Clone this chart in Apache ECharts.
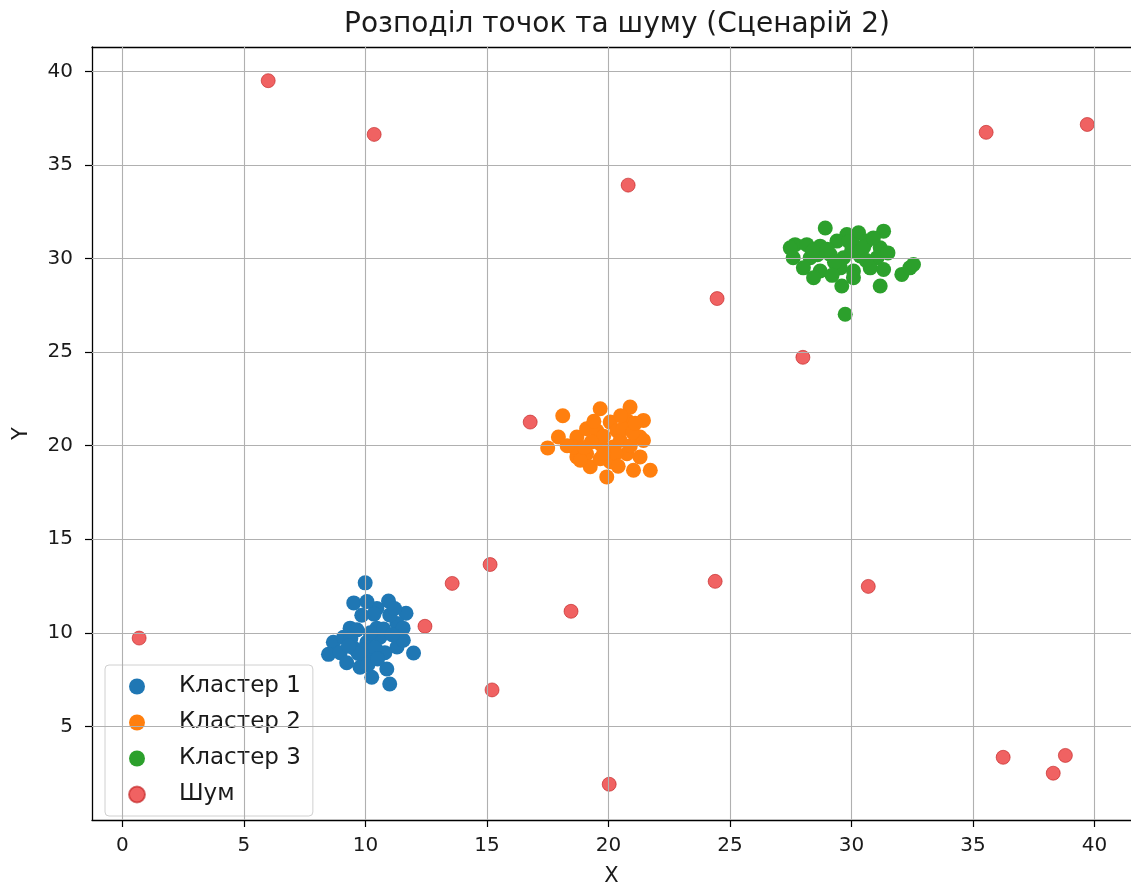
<!DOCTYPE html>
<html>
<head>
<meta charset="utf-8">
<script src="https://cdn.jsdelivr.net/npm/echarts@6/dist/echarts.min.js"></script>
<style>
  html, body { margin: 0; padding: 0; background: #fff; }
  #chart { width: 1131px; height: 892px; }
</style>
</head>
<body>
<div id="chart"></div>
<script>
// Cluster members and noise points, [x, y]
const cluster1 = [
  [9.99,12.67],[9.52,11.6],[10.95,11.7],[11.67,11.05],[10.47,11.3],[10.35,11.0],[11.3,10.5],
  [9.37,10.25],[11.55,10.25],[9.85,10.94],[8.68,9.5],[9.1,9.76],[8.48,8.85],[8.96,8.94],
  [9.5,9.2],[9.23,8.4],[10.06,9.5],[10.6,9.77],[11.3,9.24],[11.98,8.92],[10.06,8.7],
  [9.78,8.16],[10.26,7.63],[10.88,8.07],[11.0,7.27],[10.47,10.25],[10.06,11.67],[10.8,8.94],
  [11.56,9.6],[9.65,10.16],[10.2,10.0],[9.9,9.1],[10.4,9.2],[11.0,10.95],[9.4,9.7],
  [10.75,10.2],[10.1,8.3],[11.1,9.9],[9.7,8.9],[10.5,8.6],[9.3,9.3],[11.2,11.3]
];
const cluster2 = [
  [18.12,21.6],[19.66,21.97],[20.89,22.06],[21.44,21.35],[17.94,20.46],[17.5,19.88],[18.7,20.46],
  [19.1,20.9],[20.07,21.26],[20.35,20.8],[21.3,20.46],[21.44,20.28],[18.7,19.4],[19.1,19.57],
  [19.66,20.1],[20.2,19.93],[20.76,19.57],[21.3,19.4],[21.03,18.69],[21.72,18.69],[19.93,18.33],
  [19.25,18.87],[18.84,19.22],[19.52,20.8],[20.48,20.28],[18.56,19.93],[20.07,19.14],[20.76,21.35],
  [19.66,19.3],[19.8,20.5],[20.6,20.9],[19.3,20.2],[20.9,20.0],[19.0,19.9],[20.3,19.6],
  [19.4,21.3],[20.5,21.6],[21.0,20.7],[18.3,20.0],[20.4,18.9],[19.8,19.6],[21.1,21.2]
];
const cluster3 = [
  [28.92,31.63],[29.81,31.28],[30.29,31.37],[31.32,31.46],[27.68,30.74],[28.16,30.74],[28.71,30.66],
  [29.4,30.93],[30.08,30.74],[30.63,30.93],[31.18,30.57],[27.6,30.04],[28.3,30.04],[29.12,30.21],
  [29.67,30.04],[30.36,30.13],[31.05,30.04],[28.02,29.5],[28.71,29.33],[29.54,29.5],[30.08,29.33],
  [30.77,29.5],[31.32,29.41],[28.44,28.97],[30.08,28.97],[29.6,28.53],[31.18,28.53],[32.07,29.15],
  [32.4,29.5],[32.55,29.68],[29.74,27.02],[27.48,30.57],[29.0,30.5],[30.0,30.4],[28.6,30.2],[30.5,30.6],
  [29.3,29.8],[30.6,29.9],[28.4,30.4],[29.9,30.9],[30.9,31.1],[29.2,29.1],[31.5,30.3]
];
const noise = [
  [6.0,39.5],[10.36,36.63],[20.81,33.92],[35.54,36.74],[39.7,37.16],[24.47,27.86],[28.0,24.72],
  [16.78,21.26],[0.69,9.72],[12.45,10.35],[13.57,12.64],[15.13,13.65],[18.46,11.15],[15.21,6.95],
  [24.39,12.75],[30.69,12.48],[20.03,1.91],[36.24,3.35],[38.3,2.5],[38.8,3.45]
];

const seriesNames = ['Кластер 1', 'Кластер 2', 'Кластер 3', 'Шум'];
const xTicks = [0, 5, 10, 15, 20, 25, 30, 35, 40];
const yTicks = [5, 10, 15, 20, 25, 30, 35, 40];

const FONT = 'DejaVu Sans';
const chart = echarts.init(document.getElementById('chart'), null, { renderer: 'canvas' });

const axisLine = { show: true, onZero: false, lineStyle: { color: '#000', width: 1.3 } };

function scatter(name, data, size, style) {
  return {
    name, type: 'scatter', data, symbol: 'circle', symbolSize: size,
    itemStyle: Object.assign({ opacity: 1 }, style),
    emphasis: { disabled: true }, animation: false
  };
}

chart.setOption({
  backgroundColor: '#fff',
  animation: false,
  title: {
    text: 'Розподіл точок та шуму (Сценарій 2)',
    left: 612, top: 6, textAlign: 'center',
    textStyle: { fontFamily: FONT, fontSize: 28, fontWeight: 'normal', color: '#1a1a1a' }
  },
  legend: {
    orient: 'vertical', left: 105, top: 665,
    data: seriesNames,
    icon: 'circle', itemWidth: 16, itemHeight: 16, itemGap: 13,
    padding: [10, 12, 10, 23],
    backgroundColor: 'rgba(255,255,255,0.8)',
    borderColor: '#d0d0d0', borderWidth: 1, borderRadius: 4,
    textStyle: { fontFamily: FONT, fontSize: 23, color: '#1a1a1a', padding: [0, 0, 0, 29] }
  },
  grid: { left: 92, top: 47, right: 0, bottom: 67, containLabel: false },
  xAxis: [{
    type: 'value', min: -1.25, max: 41.5,
    name: 'X', nameLocation: 'middle', nameGap: 46,
    nameTextStyle: { fontFamily: FONT, fontSize: 21, color: '#1a1a1a' },
    axisLine,
    axisTick: { show: true, length: 7, customValues: xTicks, lineStyle: { color: '#000', width: 1.2 } },
    axisLabel: { customValues: xTicks, margin: 16, fontFamily: FONT, fontSize: 20, color: '#1a1a1a' },
    splitLine: { show: false }
  }, {
    type: 'value', min: -1.25, max: 41.5, position: 'top',
    axisLine, axisTick: { show: false }, axisLabel: { show: false }, splitLine: { show: false }
  }],
  yAxis: {
    type: 'value', min: 0, max: 41.3,
    name: 'Y', nameLocation: 'middle', nameGap: 60, nameRotate: 90,
    nameTextStyle: { fontFamily: FONT, fontSize: 21, color: '#1a1a1a' },
    axisLine,
    axisTick: { show: true, length: 7, customValues: yTicks, lineStyle: { color: '#000', width: 1.2 } },
    axisLabel: { customValues: yTicks, margin: 19, fontFamily: FONT, fontSize: 20, color: '#1a1a1a' },
    splitLine: { show: false }
  },
  series: [
    // reference grid lines drawn along the tick values
    {
      type: 'line', silent: true, data: [], z: 0,
      markLine: {
        silent: true, symbol: 'none', animation: false,
        label: { show: false },
        lineStyle: { color: '#b0b0b0', width: 1.1, type: 'solid' },
        data: xTicks.map(v => ({ xAxis: v })).concat(yTicks.map(v => ({ yAxis: v })))
      }
    },
    scatter(seriesNames[0], cluster1, 15, { color: '#1f77b4' }),
    scatter(seriesNames[1], cluster2, 15, { color: '#ff7f0e' }),
    scatter(seriesNames[2], cluster3, 15, { color: '#2ca02c' }),
    scatter(seriesNames[3], noise, 14, { color: 'rgba(235,45,45,0.75)', borderColor: 'rgba(190,30,30,0.6)', borderWidth: 1 })
  ]
});
</script>
</body>
</html>
